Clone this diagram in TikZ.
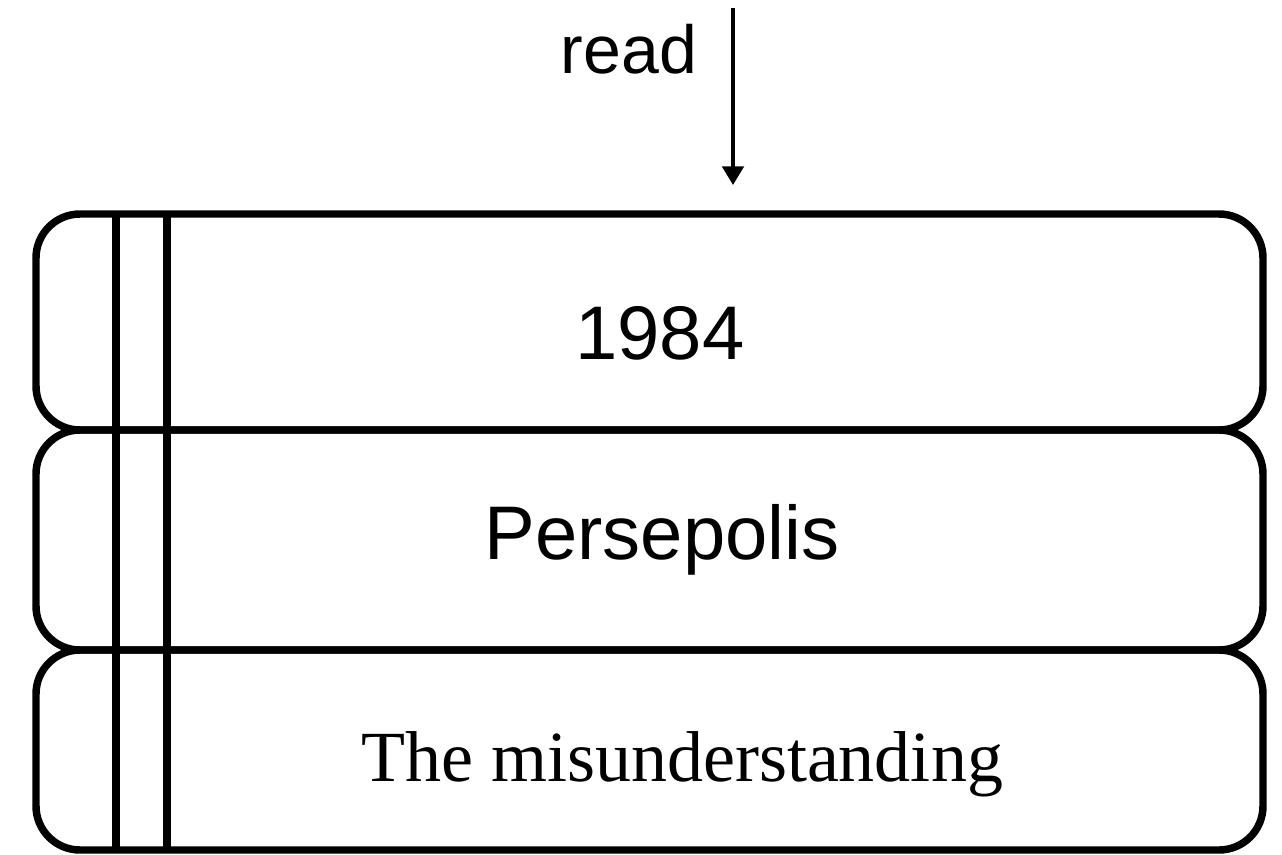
\documentclass[tikz,border=0pt]{standalone}
\usepackage{fontspec}
\setmainfont{Liberation Sans}
\newfontfamily\bookserif{Liberation Serif}
\usetikzlibrary{arrows.meta}
\begin{document}
\begin{tikzpicture}[x=0.75pt,y=-0.75pt,
  book/.style={draw=black, line width=5.6pt, rounded corners=33pt,
    minimum width=920.25pt, inner sep=0pt, outer sep=0pt},
  spine/.style={line width=5.6pt},
  title/.style={anchor=base, inner sep=0pt, font=\fontsize{57}{60}\selectfont},
  stitle/.style={anchor=base, inner sep=0pt, font=\bookserif\fontsize{54}{58}\selectfont},
  readarrow/.style={line width=3pt, -{Triangle[width=16pt,length=14pt]}}]
\useasboundingbox (0,0) rectangle (1282,854);
% books
\node[book, minimum height=162pt] (b1) at (649.5,322) {};
\node[book, minimum height=165pt] (b2) at (649.5,540) {};
\node[book, minimum height=150pt] (b3) at (649.5,750) {};
% spines
\draw[spine] ([xshift=60pt]b1.north west) -- ([xshift=60pt]b3.south west);
\draw[spine] ([xshift=98.25pt]b1.north west) -- ([xshift=98.25pt]b3.south west);
% titles
\node[title] (t1) at (660,359) {1984};
\node[title] (t2) at (662,559) {Persepolis};
\node[stitle] (t3) at (682,781) {The misunderstanding};
% arrow
\coordinate (as) at (733,8);
\coordinate (ae) at (733,185);
\draw[readarrow] (as) -- (ae);
\node[anchor=base, inner sep=0pt, font=\fontsize{51}{55}\selectfont] (rd) at (629,73) {read};
\end{tikzpicture}
\end{document}
